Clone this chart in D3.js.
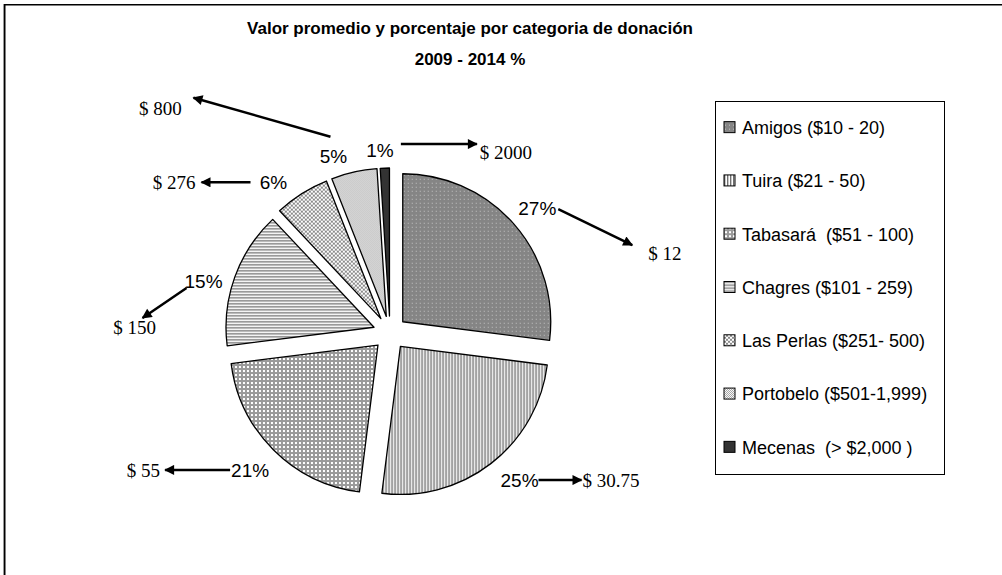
<!DOCTYPE html>
<html>
<head>
<meta charset="utf-8">
<script src="https://cdnjs.cloudflare.com/ajax/libs/d3/7.8.5/d3.min.js"></script>
<style>
  body { margin: 0; background: #fff; }
  svg { display: block; }
</style>
</head>
<body>
<svg id="chart" width="1002" height="575"></svg>
<script>
// data
var categories = ["Amigos ($10 - 20)", "Tuira ($21 - 50)", "Tabasará  ($51 - 100)",
                  "Chagres ($101 - 259)", "Las Perlas ($251- 500)",
                  "Portobelo ($501-1,999)", "Mecenas  (> $2,000 )"];
var percentages = [27, 25, 21, 15, 6, 5, 1];
var avgValues = ["$ 12", "$ 30.75", "$ 55", "$ 150", "$ 276", "$ 800", "$ 2000"];
var titleLines = ["Valor promedio y porcentaje por categoria de donación", "2009 - 2014 %"];

var cx = 390, cy = 333,
    radius = 148,
    explode = 17,
    labelRadius = 195;

// label nudges and arrow layout (relative to each % label)
var labelNudge = [[1, 4], [10, -7], [-2, -1], [-3, 14], [-12, 14], [-14, 14], [-4, 12]];
var arrowLayout = [
  {x1: 21, y1: 1, x2: 95, y2: 37, vx: 111, vy: 45, anchor: "start"},
  {x1: 19, y1: 0, x2: 62, y2: 0, vx: 63, vy: 0, anchor: "start"},
  {x1: -20, y1: 0, x2: -85, y2: 0, vx: -90, vy: 0, anchor: "end"},
  {x1: -17, y1: 7, x2: -61, y2: 37, vx: -69, vy: 46, anchor: "middle"},
  {x1: -23, y1: 0, x2: -72, y2: 0, vx: -78, vy: 0, anchor: "end"},
  {x1: -3, y1: -20, x2: -140, y2: -59, vx: -173, vy: -48, anchor: "middle"},
  {x1: 21, y1: -6, x2: 97, y2: -6, vx: 100, vy: 2, anchor: "start"}
];

var svg = d3.select("#chart");
var defs = svg.append("defs");

function makePattern(id, w, h, bg, rects) {
  var p = defs.append("pattern")
      .attr("id", id)
      .attr("patternUnits", "userSpaceOnUse")
      .attr("width", w)
      .attr("height", h);
  p.append("rect").attr("width", w).attr("height", h).attr("fill", bg);
  rects.forEach(function(r) {
    p.append("rect").attr("x", r[0]).attr("y", r[1])
     .attr("width", r[2]).attr("height", r[3]).attr("fill", r[4]);
  });
}
makePattern("p0", 4, 4, "#858585", [[1, 1, 1, 1, "#c4c4c4"]]);
makePattern("p1", 3, 3, "#ffffff", [[0, 0, 1, 3, "#707070"], [1, 0, 1, 3, "#c8c8c8"]]);
makePattern("p2", 4, 4, "#9a9a9a", [[1, 1, 2, 2, "#ffffff"]]);
makePattern("p3", 3, 3, "#ffffff", [[0, 0, 3, 1, "#7a7a7a"], [0, 1, 3, 1, "#d0d0d0"]]);
makePattern("p4", 4, 4, "#ffffff", [[0, 0, 2, 2, "#8a8a8a"], [2, 2, 2, 2, "#8a8a8a"]]);
makePattern("p5", 2, 2, "#ffffff", [[0, 0, 1, 1, "#a0a0a0"], [1, 1, 1, 1, "#a0a0a0"]]);
makePattern("p6", 2, 2, "#333333", []);

defs.append("marker")
    .attr("id", "arrow")
    .attr("viewBox", "0 0 10 10")
    .attr("refX", 9)
    .attr("refY", 5)
    .attr("markerUnits", "userSpaceOnUse")
    .attr("markerWidth", 12)
    .attr("markerHeight", 10)
    .attr("orient", "auto")
  .append("path")
    .attr("d", "M0,0 L10,5 L0,10 Z")
    .attr("fill", "#000");

// outer frame
svg.append("line").attr("x1", 3.5).attr("y1", 4).attr("x2", 3.5).attr("y2", 575)
   .attr("stroke", "#999").attr("stroke-width", 1);
svg.append("rect")
   .attr("x", 4.75).attr("y", 4.75)
   .attr("width", 1010).attr("height", 600)
   .attr("fill", "none").attr("stroke", "#000").attr("stroke-width", 1.5);

// title
svg.append("g").selectAll("text")
   .data(titleLines)
   .enter().append("text")
   .attr("x", 470)
   .attr("y", function(d, i) { return 34 + i * 31; })
   .attr("text-anchor", "middle")
   .attr("font-family", "Liberation Sans, Arial, sans-serif")
   .attr("font-weight", "bold")
   .attr("font-size", 17)
   .text(function(d) { return d; });

// pie
var pie = d3.pie().sort(null).value(function(d) { return d; });
var arcs = pie(percentages);
var arc = d3.arc().innerRadius(0).outerRadius(radius);

var pieG = svg.append("g").attr("transform", "translate(" + cx + "," + cy + ")");

pieG.selectAll("path")
    .data(arcs)
    .enter().append("path")
    .attr("d", arc)
    .attr("transform", function(d) {
      var a = (d.startAngle + d.endAngle) / 2;
      return "translate(" + (Math.sin(a) * explode) + "," + (-Math.cos(a) * explode) + ")";
    })
    .attr("fill", function(d, i) { return "url(#p" + i + ")"; })
    .attr("stroke", "#000")
    .attr("stroke-width", 1.3)
    .attr("stroke-linejoin", "round");

// labels + arrows
var labelPos = arcs.map(function(d, i) {
  var a = (d.startAngle + d.endAngle) / 2;
  return [Math.sin(a) * labelRadius + labelNudge[i][0],
          -Math.cos(a) * labelRadius + labelNudge[i][1]];
});

var ann = pieG.selectAll("g.ann")
    .data(arcs)
    .enter().append("g")
    .attr("class", "ann")
    .attr("transform", function(d, i) {
      return "translate(" + labelPos[i][0] + "," + labelPos[i][1] + ")";
    });

ann.append("line")
   .attr("x1", function(d, i) { return arrowLayout[i].x1; })
   .attr("y1", function(d, i) { return arrowLayout[i].y1; })
   .attr("x2", function(d, i) { return arrowLayout[i].x2; })
   .attr("y2", function(d, i) { return arrowLayout[i].y2; })
   .attr("stroke", "#000")
   .attr("stroke-width", 2.5)
   .attr("marker-end", "url(#arrow)");

ann.append("text")
   .attr("text-anchor", "middle")
   .attr("dy", "0.35em")
   .attr("font-family", "Liberation Sans, Arial, sans-serif")
   .attr("font-size", 19)
   .text(function(d) { return d.data + "%"; });

ann.append("text")
   .attr("x", function(d, i) { return arrowLayout[i].vx; })
   .attr("y", function(d, i) { return arrowLayout[i].vy; })
   .attr("dy", "0.35em")
   .attr("text-anchor", function(d, i) { return arrowLayout[i].anchor; })
   .attr("font-family", "Liberation Serif, Times New Roman, serif")
   .attr("font-size", 19)
   .text(function(d, i) { return avgValues[i]; });

// legend
var legX = 715, legY = 101, legW = 229, legH = 373;
var legend = svg.append("g");
legend.append("rect")
      .attr("x", legX + 0.5).attr("y", legY + 0.5)
      .attr("width", legW).attr("height", legH)
      .attr("fill", "#fff").attr("stroke", "#000").attr("stroke-width", 1);

var step = legH / categories.length;
var item = legend.selectAll("g.item")
    .data(categories)
    .enter().append("g")
    .attr("class", "item")
    .attr("transform", function(d, i) {
      return "translate(" + (legX + 9) + "," + (legY + step * (i + 0.5)) + ")";
    });

item.append("rect")
    .attr("x", 0).attr("y", -6)
    .attr("width", 11).attr("height", 11)
    .attr("fill", function(d, i) { return "url(#p" + i + ")"; })
    .attr("stroke", "#000")
    .attr("stroke-width", 1);

item.append("text")
    .attr("x", 18)
    .attr("dy", "0.35em")
    .attr("font-family", "Liberation Sans, Arial, sans-serif")
    .attr("font-size", 18)
    .style("white-space", "pre")
    .text(function(d) { return d; });
</script>
</body>
</html>
